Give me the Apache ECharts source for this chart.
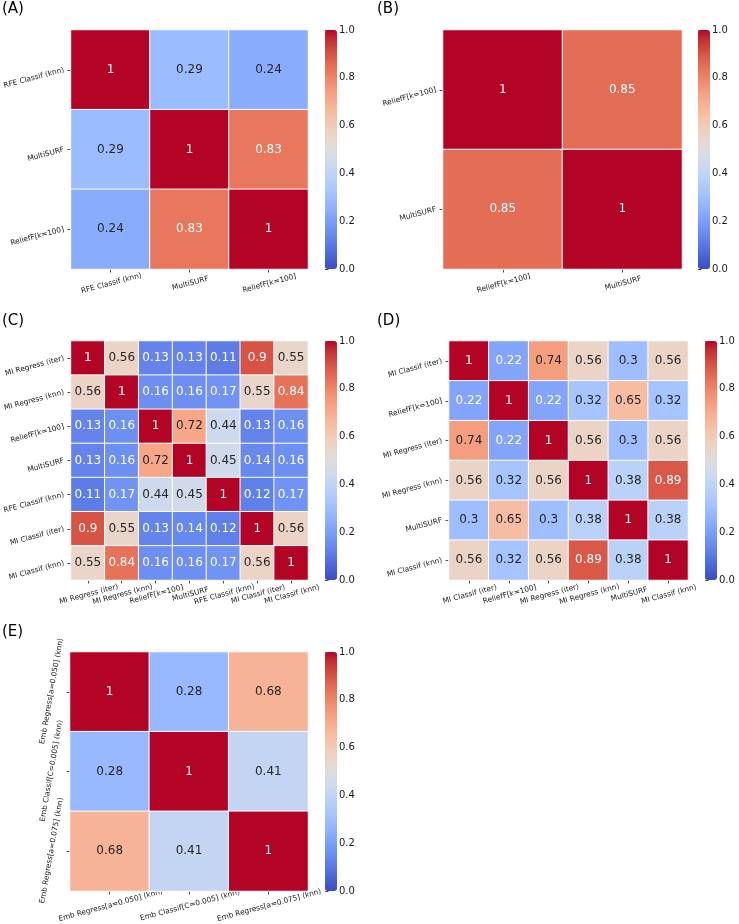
<!DOCTYPE html>
<html><head><meta charset="utf-8">
<script src="https://cdn.jsdelivr.net/npm/echarts@6/dist/echarts.min.js"></script>
<style>html,body{margin:0;padding:0;background:#fff}#c{width:739px;height:924px}</style>
</head><body><div id="c"></div>
<script>
// ---- data ----
const labelsA = ["RFE Classif (knn)", "MultiSURF", "ReliefF[k=100]"];
const valuesA = [
  [1, 0.29, 0.24],
  [0.29, 1, 0.83],
  [0.24, 0.83, 1]
];
const labelsB = ["ReliefF[k=100]", "MultiSURF"];
const valuesB = [
  [1, 0.85],
  [0.85, 1]
];
const labelsC = ["MI Regress (iter)", "MI Regress (knn)", "ReliefF[k=100]", "MultiSURF", "RFE Classif (knn)", "MI Classif (iter)", "MI Classif (knn)"];
const valuesC = [
  [1, 0.56, 0.13, 0.13, 0.11, 0.9, 0.55],
  [0.56, 1, 0.16, 0.16, 0.17, 0.55, 0.84],
  [0.13, 0.16, 1, 0.72, 0.44, 0.13, 0.16],
  [0.13, 0.16, 0.72, 1, 0.45, 0.14, 0.16],
  [0.11, 0.17, 0.44, 0.45, 1, 0.12, 0.17],
  [0.9, 0.55, 0.13, 0.14, 0.12, 1, 0.56],
  [0.55, 0.84, 0.16, 0.16, 0.17, 0.56, 1]
];
const labelsD = ["MI Classif (iter)", "ReliefF[k=100]", "MI Regress (iter)", "MI Regress (knn)", "MultiSURF", "MI Classif (knn)"];
const valuesD = [
  [1, 0.22, 0.74, 0.56, 0.3, 0.56],
  [0.22, 1, 0.22, 0.32, 0.65, 0.32],
  [0.74, 0.22, 1, 0.56, 0.3, 0.56],
  [0.56, 0.32, 0.56, 1, 0.38, 0.89],
  [0.3, 0.65, 0.3, 0.38, 1, 0.38],
  [0.56, 0.32, 0.56, 0.89, 0.38, 1]
];
const labelsE = ["Emb Regress[a=0.050] (knn)", "Emb Classif[C=0.005] (knn)", "Emb Regress[a=0.075] (knn)"];
const valuesE = [
  [1, 0.28, 0.68],
  [0.28, 1, 0.41],
  [0.68, 0.41, 1]
];
const panelTitles = ["(A)", "(B)", "(C)", "(D)", "(E)"];
const colorbarMin = 0, colorbarMax = 1, colorbarStep = 0.2;

// ---- style ----
const coolwarm = ['#3b4cc0','#445acc','#4d68d7','#5775e1','#6282ea','#6c8ef1','#779af7','#82a5fb','#8db0fe','#98b9ff','#a3c2ff','#aec9fd','#b8d0f9','#c2d5f4','#ccd9ee','#d5dbe6','#dddddd','#e5d8d1','#ecd3c5','#f1ccb9','#f5c4ad','#f7bba0','#f7b194','#f7a687','#f49a7b','#f18d6f','#ec7f63','#e57058','#de604d','#d55042','#cb3e38','#c0282f','#b40426'];
const FONT = 'DejaVu Sans';
const layout = [
  {tx: 2,   ty: 2,   left: 70,  top: 30,  w: 238, h: 239, cb: 325, ylRot: 15},
  {tx: 377, ty: 2,   left: 443, top: 30,  w: 239, h: 239, cb: 698, ylRot: 15},
  {tx: 2,   ty: 314, left: 70,  top: 341, w: 238, h: 239, cb: 325, ylRot: 15},
  {tx: 377, ty: 314, left: 449, top: 341, w: 239, h: 239, cb: 705, ylRot: 15},
  {tx: 2,   ty: 625, left: 70,  top: 652, w: 238, h: 239, cb: 325, ylRot: 80}
];
const panels = [
  {labels: labelsA, values: valuesA},
  {labels: labelsB, values: valuesB},
  {labels: labelsC, values: valuesC},
  {labels: labelsD, values: valuesD},
  {labels: labelsE, values: valuesE}
];

function fmt(v) { return String(Number(v.toPrecision(2))); }
function textColor(v) { return (v < 0.23 || v > 0.8) ? '#ffffff' : '#262626'; }

const grid = [], xAxis = [], yAxis = [], series = [], visualMap = [], title = [];
panels.forEach((p, k) => {
  const L = layout[k];
  title.push({text: panelTitles[k], left: L.tx, top: L.ty, padding: 0,
    textStyle: {fontFamily: FONT, fontSize: 15, fontWeight: 'normal', color: '#000'}});
  grid.push({left: L.left, top: L.top, width: L.w, height: L.h, containLabel: false});
  xAxis.push({type: 'category', gridIndex: k, data: p.labels, position: 'bottom',
    axisLine: {show: false}, splitArea: {show: false},
    axisTick: {show: true, alignWithLabel: true, length: 3.5, lineStyle: {color: '#222', width: 0.8}},
    axisLabel: {interval: 0, hideOverlap: false, rotate: 15, align: 'center', verticalAlign: 'top', margin: 11,
      fontFamily: FONT, fontSize: 7.4, color: '#1a1a1a'}});
  const isE = L.ylRot > 45;
  yAxis.push({type: 'category', gridIndex: k, data: p.labels, inverse: true, position: 'left',
    axisLine: {show: false}, splitArea: {show: false},
    axisTick: {show: true, alignWithLabel: true, length: 3.5, lineStyle: {color: '#222', width: 0.8}},
    axisLabel: Object.assign({interval: 0, hideOverlap: false, rotate: L.ylRot,
      fontFamily: FONT, fontSize: 7.4, color: '#1a1a1a'},
      isE ? {align: 'center', verticalAlign: 'bottom', margin: 15} : {margin: 7})});
  const data = [];
  p.values.forEach((row, i) => row.forEach((v, j) => {
    data.push({value: [j, i, v], label: {color: textColor(v)}});
  }));
  series.push({type: 'heatmap', xAxisIndex: k, yAxisIndex: k, data: data,
    itemStyle: {borderColor: '#ffffff', borderWidth: 1},
    label: {show: true, formatter: (d) => fmt(d.value[2]), fontFamily: FONT, fontSize: 12},
    emphasis: {disabled: true}});
  visualMap.push({type: 'continuous', seriesIndex: k, min: colorbarMin, max: colorbarMax,
    orient: 'vertical', left: L.cb, top: L.top, itemWidth: 12, itemHeight: L.h,
    padding: 0, calculable: false, text: null, hoverLink: false, realtime: false,
    inRange: {color: coolwarm}});
});
// colorbar axes
panels.forEach((p, k) => {
  const L = layout[k];
  const gi = grid.length;
  grid.push({left: L.cb, top: L.top, width: 12, height: L.h});
  xAxis.push({type: 'value', gridIndex: gi, show: false, min: 0, max: 1});
  yAxis.push({type: 'value', gridIndex: gi, position: 'right', min: colorbarMin, max: colorbarMax, interval: colorbarStep,
    axisLine: {show: false}, splitLine: {show: false},
    axisTick: {show: true, length: 3.5, lineStyle: {color: '#222', width: 0.8}},
    axisLabel: {margin: 2, formatter: (v) => v.toFixed(1), fontFamily: FONT, fontSize: 10, color: '#1a1a1a'}});
});

const chart = echarts.init(document.getElementById('c'), null, {renderer: 'canvas'});
chart.setOption({animation: false, backgroundColor: '#ffffff', title, grid, xAxis, yAxis, series, visualMap});
</script>
</body></html>
